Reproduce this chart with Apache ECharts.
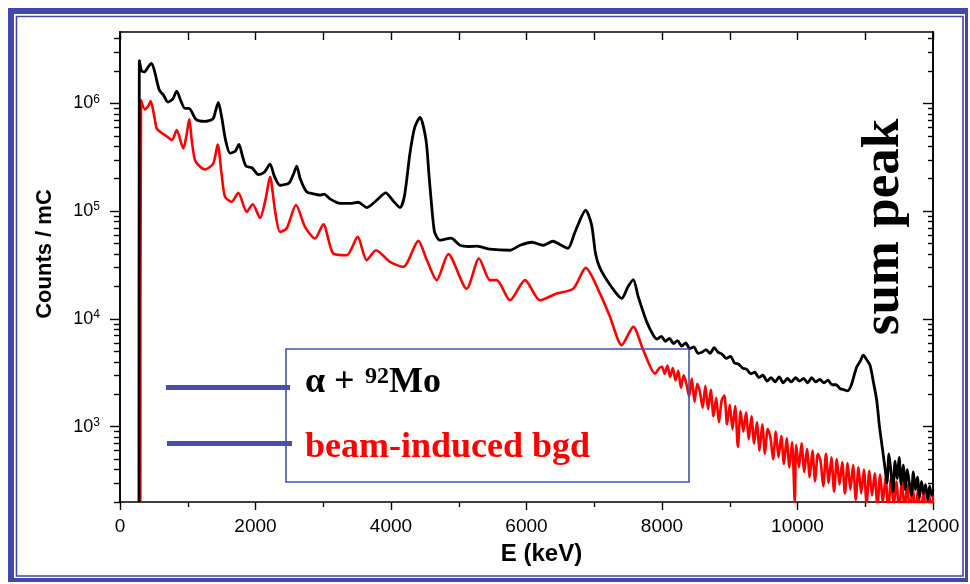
<!DOCTYPE html>
<html><head><meta charset="utf-8">
<script src="https://cdn.jsdelivr.net/npm/echarts@6/dist/echarts.min.js"></script>
<style>html,body{margin:0;padding:0;background:#fff}#c{width:970px;height:584px}</style>
</head><body><div id="c"></div>
<script>
// ---- data (energy in keV, counts per mC) ----
const blackE = [280,285,320,360,420,460,500,580,640,708,780,837,900,959,1018,1122,1250,1373,1410,1451,1500,1560,1624,1700,1756,1810,1860,1948,2041,2130,2214,2280,2362,2494,2560,2608,2660,2756,2850,2952,3011,3100,3247,3400,3513,3646,3780,3922,4030,4133,4200,4280,4350,4428,4516,4560,4601,4640,4675,4723,4800,4886,5018,5150,5269,5461,5756,5904,6081,6243,6391,6520,6612,6720,6874,6960,7020,7085,7250,7405,7500,7576,7650,7774,7872,7930,7990,8050,8110,8170,8230,8290,8350,8410,8470,8530,8590,8650,8710,8770,8830,8890,8950,9010,9070,9130,9190,9250,9310,9370,9430,9490,9550,9610,9670,9730,9790,9850,9910,9970,10030,10090,10150,10210,10270,10330,10390,10450,10510,10570,10630,10690,10740,10790,10830,10874,10930,10971,11020,11070,11120,11169,11210,11250,11290,11320,11350,11380,11410,11440,11470,11500,11530,11560,11590,11620,11650,11680,11710,11740,11770,11800,11830,11860,11890,11920,11950,11980,12000];
const blackCounts = [200,2.5e6,2.0e6,1.96e6,2.2e6,2.35e6,2.1e6,1.33e6,1.2e6,1.03e6,1.1e6,1.3e6,1.05e6,9.0e5,9.0e5,7.1e5,6.8e5,7.2e5,8.5e5,1.02e6,7.5e5,4.5e5,3.46e5,3.6e5,4.16e5,3.2e5,2.62e5,2.53e5,2.19e5,2.3e5,2.73e5,2.1e5,1.74e5,1.82e5,2.2e5,2.62e5,2.0e5,1.51e5,1.45e5,1.41e5,1.44e5,1.3e5,1.18e5,1.18e5,1.21e5,1.08e5,1.25e5,1.48e5,1.25e5,1.08e5,1.4e5,3.46e5,6.0e5,7.4e5,4.6e5,2.2e5,1.1e5,6.5e4,5.77e4,5.38e4,5.5e4,5.61e4,4.83e4,4.7e4,4.73e4,4.44e4,4.34e4,4.83e4,5.15e4,4.83e4,5.26e4,4.8e4,4.53e4,6.5e4,1.02e5,7.5e4,4.0e4,2.96e4,2.0e4,1.55e4,2.0e4,2.32e4,1.6e4,9.4e3,7060,6500,6900,6200,6600,5900,6300,5600,6000,5300,5500,4800,4900,5200,4800,5400,4900,4700,4300,4500,3900,3800,3500,3400,3100,3200,2850,3000,2650,2850,2600,2900,2550,2800,2600,2850,2650,2800,2550,2850,2600,2750,2550,2700,2450,2450,2250,2200,2150,2400,2900,3580,4100,4600,4200,3720,2600,1760,1000,650,420,300,560,380,250,480,330,520,290,440,260,400,300,230,380,260,340,220,310,240,290,210,280,230,260];

const redE = [300,310,369,420,453,500,542,600,664,768,837,934,980,1023,1060,1107,1180,1255,1377,1442,1500,1550,1649,1746,1870,1959,2066,2150,2214,2290,2362,2460,2598,2731,2878,3001,3148,3346,3508,3641,3779,3985,4182,4403,4530,4675,4846,5117,5299,5461,5560,5756,5978,6199,6446,6691,6874,7085,7232,7405,7576,7724,7897,7960,8000,8040,8080,8120,8160,8200,8240,8280,8320,8360,8400,8440,8480,8520,8560,8600,8640,8680,8720,8760,8800,8840,8880,8920,8960,9000,9040,9080,9120,9160,9200,9240,9280,9320,9360,9400,9440,9480,9520,9560,9600,9640,9680,9720,9760,9800,9840,9880,9920,9960,9980,10020,10060,10100,10140,10180,10220,10260,10300,10340,10380,10420,10460,10500,10540,10580,10620,10660,10700,10740,10780,10820,10860,10900,10940,10980,11020,11060,11100,11140,11180,11220,11260,11300,11340,11380,11420,11460,11500,11540,11580,11620,11660,11700,11740,11780,11820,11860,11900,11940,11980,12000];
const redCounts = [200,1.07e6,8.8e5,9.5e5,1.05e6,8.0e5,5.86e5,5.4e5,5.08e5,4.57e5,5.65e5,3.82e5,5.0e5,7.15e5,4.5e5,2.98e5,2.6e5,2.44e5,2.77e5,4.16e5,2.2e5,1.36e5,1.22e5,1.48e5,9.86e4,1.16e5,8.67e4,1.3e5,2.08e5,1.0e5,6.43e4,6.91e4,1.14e5,7.15e4,5.57e4,7.57e4,4.05e4,3.9e4,5.77e4,3.51e4,4.34e4,3.38e4,3.04e4,5.3e4,3.5e4,2.29e4,3.99e4,1.91e4,3.64e4,2.29e4,2.29e4,1.49e4,2.29e4,1.49e4,1.72e4,1.91e4,2.98e4,1.72e4,1.05e4,5.7e3,8.43e3,5.12e3,3.11e3,3500,3600,3100,3700,2900,3500,2700,3300,2300,3000,2500,1900,2800,1700,2500,2100,1500,2400,1450,2200,1250,1850,1100,1750,1950,1050,1600,950,1550,650,1400,900,1350,760,1250,700,1100,600,1050,560,950,800,500,900,520,820,450,780,420,720,200,680,420,700,380,620,340,600,310,560,480,280,560,300,520,250,500,290,470,240,460,260,440,210,420,240,400,190,390,230,370,180,360,200,340,165,330,185,310,160,300,175,290,150,280,160,265,145,255,155,245,140,230];

const xTickStep = 2000;
const yDecades = [3, 4, 5, 6];
const yMinCount = 200, yMaxCount = 4.6e6;

// ---- build ----
const L = Math.log10;
const blackData = blackE.map((e, i) => [e, L(blackCounts[i])]);
const redData = redE.map((e, i) => [e, L(redCounts[i])]);
const yMin = L(yMinCount), yMax = L(yMaxCount);
const minorVals = [];
for (let n = 2; n <= 6; n++) for (let k = 2; k <= 9; k++) {
  const v = L(k * Math.pow(10, n));
  if (v >= yMin - 1e-9 && v <= yMax) minorVals.push(v);
}
const BLUE = '#4347A6';
const axisLine = { show: true, lineStyle: { color: '#000', width: 1.6 } };
function yAx(pos, vals, len, inside, labels) {
  return {
    type: 'value', position: pos, min: yMin, max: yMax, scale: true,
    axisLine: axisLine, splitLine: { show: false },
    axisTick: { show: true, customValues: vals, length: len, inside: inside, lineStyle: { color: '#000', width: 1.4 } },
    axisLabel: labels ? {
      show: true, customValues: yDecades, margin: 20,
      formatter: v => '{b|10}{s|' + Math.round(v) + '}',
      rich: { b: { fontSize: 18, fontFamily: 'Liberation Sans, Arial', color: '#000', lineHeight: 20 },
              s: { fontSize: 12, fontFamily: 'Liberation Sans, Arial', color: '#000', verticalAlign: 'top', lineHeight: 12 } }
    } : { show: false }
  };
}

const chart = echarts.init(document.getElementById('c'), null, { renderer: 'canvas' });
chart.setOption({
  animation: false,
  backgroundColor: '#fff',
  grid: { left: 120, right: 37, top: 32, bottom: 82, containLabel: false },
  xAxis: [
    { type: 'value', position: 'bottom', min: 0, max: 12000, interval: xTickStep,
      axisLine: axisLine, splitLine: { show: false },
      axisTick: { show: true, length: 8, lineStyle: { color: '#000', width: 1.4 } },
      minorTick: { show: true, splitNumber: 2, length: 5, lineStyle: { color: '#000', width: 1.4 } },
      axisLabel: { margin: 15, fontSize: 19, fontFamily: 'Liberation Sans, Arial', color: '#000', formatter: v => String(v) },
      name: 'E (keV)', nameLocation: 'middle', nameGap: 40,
      nameTextStyle: { fontSize: 24, fontWeight: 'bold', fontFamily: 'Liberation Sans, Arial', color: '#000', padding: [0, 0, 0, 30] } },
    { type: 'value', position: 'top', min: 0, max: 12000, interval: 1000,
      axisLine: axisLine, splitLine: { show: false },
      axisTick: { show: true, inside: true, length: 8, lineStyle: { color: '#000', width: 1.4 } },
      axisLabel: { show: false } }
  ],
  yAxis: [
    Object.assign(yAx('left', yDecades, 10, false, true), {
      name: 'Counts / mC', nameLocation: 'middle', nameGap: 64, nameRotate: 90,
      nameTextStyle: { fontSize: 22, fontWeight: 'bold', fontFamily: 'Liberation Sans, Arial', color: '#000', padding: [0, 0, 0, 26] } }),
    yAx('left', minorVals, 6, false, false),
    yAx('right', yDecades, 10, true, false),
    yAx('right', minorVals, 5, true, false)
  ],
  series: [
    { name: 'beam-induced bgd', type: 'line', data: redData, xAxisIndex: 0, yAxisIndex: 0,
      showSymbol: false, smooth: 0.25, lineStyle: { color: '#ff0000', width: 2.6 }, clip: true, z: 2 },
    { name: 'alpha + 92Mo', type: 'line', data: blackData, xAxisIndex: 0, yAxisIndex: 0,
      showSymbol: false, smooth: 0.25, lineStyle: { color: '#000000', width: 2.8 }, clip: true, z: 3 }
  ],
  graphic: [
    // outer frame
    { type: 'rect', shape: { x: 8, y: 8, width: 960, height: 6 }, style: { fill: BLUE }, silent: true },
    { type: 'rect', shape: { x: 8, y: 8, width: 6, height: 574 }, style: { fill: BLUE }, silent: true },
    { type: 'rect', shape: { x: 965, y: 8, width: 3, height: 574 }, style: { fill: BLUE }, silent: true },
    { type: 'rect', shape: { x: 8, y: 578, width: 960, height: 4 }, style: { fill: BLUE }, silent: true },
    { type: 'rect', shape: { x: 16.5, y: 16.5, width: 946.5, height: 559.5 }, style: { fill: 'none', stroke: BLUE, lineWidth: 1.6 }, silent: true },
    // legend box and keys
    { type: 'rect', shape: { x: 286, y: 349, width: 403, height: 133 }, style: { fill: 'none', stroke: '#4A4EAA', lineWidth: 1.6 }, z: 10 },
    { type: 'line', shape: { x1: 166, y1: 387.5, x2: 290, y2: 387.5 }, style: { stroke: '#4A4EAA', lineWidth: 5 }, z: 10 },
    { type: 'line', shape: { x1: 167, y1: 443.5, x2: 292, y2: 443.5 }, style: { stroke: '#4A4EAA', lineWidth: 5 }, z: 10 },
    { type: 'text', x: 305, y: 383, style: { text: 'α +', fill: '#000', font: 'bold 36px "Liberation Serif", "Times New Roman", serif', verticalAlign: 'middle', align: 'left' }, z: 10 },
    { type: 'text', x: 365, y: 377, style: { text: '92', fill: '#000', font: 'bold 24px "Liberation Serif", "Times New Roman", serif', verticalAlign: 'middle', align: 'left' }, z: 10 },
    { type: 'text', x: 389, y: 383, style: { text: 'Mo', fill: '#000', font: 'bold 36px "Liberation Serif", "Times New Roman", serif', verticalAlign: 'middle', align: 'left' }, z: 10 },
    { type: 'text', x: 305, y: 448, style: { text: 'beam-induced bgd', fill: '#ff0000', font: 'bold 36px "Liberation Serif", "Times New Roman", serif', verticalAlign: 'middle', align: 'left' }, z: 10 },
    // sum peak annotation
    { type: 'text', x: 884, y: 227, rotation: Math.PI / 2, style: { text: 'sum peak', fill: '#000', font: 'bold 53px "Liberation Serif", "Times New Roman", serif', verticalAlign: 'middle', align: 'center' }, z: 10 }
  ]
});
</script>
</body></html>
